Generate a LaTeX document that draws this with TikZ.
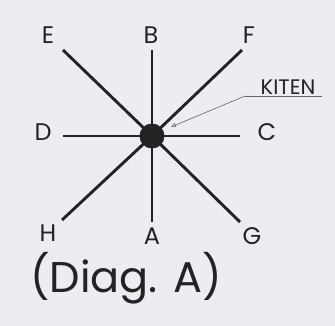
\documentclass[tikz,border=0pt]{standalone}
\usepackage{fontspec}
\setmainfont{Poppins}
\usetikzlibrary{arrows.meta}
\definecolor{paper}{RGB}{236,237,241}
\definecolor{ink}{RGB}{35,35,38}
\begin{document}
\begin{tikzpicture}[x=1pt,y=-1pt,
  spoke/.style={line width=2.9pt,draw=ink},
  lbl/.style={font=\fontsize{24}{26}\selectfont,text=ink,inner sep=0pt},
  leader/.style={line width=0.6pt,draw=ink!70}]
\fill[paper] (0,0) rectangle (335,326);
\useasboundingbox (0,0) rectangle (335,326);
% end points
\coordinate (pE) at (63,50);
\coordinate (pB) at (152,50);
\coordinate (pF) at (242,50);
\coordinate (pD) at (63,136);
\coordinate (pC) at (240,136);
\coordinate (pH) at (62,220);
\coordinate (pA) at (152,222);
\coordinate (pG) at (240,222);
\coordinate (O) at (152,136);
\foreach \p in {pE,pB,pF,pD,pC,pH,pA,pG} \draw[spoke] (\p) -- (O);
\node[circle,fill=ink,minimum size=25pt,inner sep=0pt] (dot) at (O) {};
% labels
\node[lbl] (E) at (48,35) {E};
\node[lbl] (B) at (151,35) {B};
\node[lbl] (F) at (249,35) {F};
\node[lbl] (D) at (43,132) {D};
\node[lbl] (C) at (267,132) {C};
\node[lbl] (H) at (48,233) {H};
\node[lbl] (A) at (152,236) {A};
\node[lbl] (G) at (252,236) {G};
\node[font=\fontsize{21}{23}\selectfont,text=ink,inner sep=0pt,anchor=base] (K) at (288,95) {KITEN};
\coordinate (k1) at (245,96);
\coordinate (k2) at (322,96);
\coordinate (tip) at (171,127);
\draw[leader] (k2) -- (k1);
\draw[leader,-{Triangle[open,length=5pt,width=4pt]}] (k1) -- (tip);
\node[font=\fontsize{43}{46}\selectfont,text=ink,inner sep=0pt] (cap) at (126,278) {(Diag. A)};
\end{tikzpicture}
\end{document}
